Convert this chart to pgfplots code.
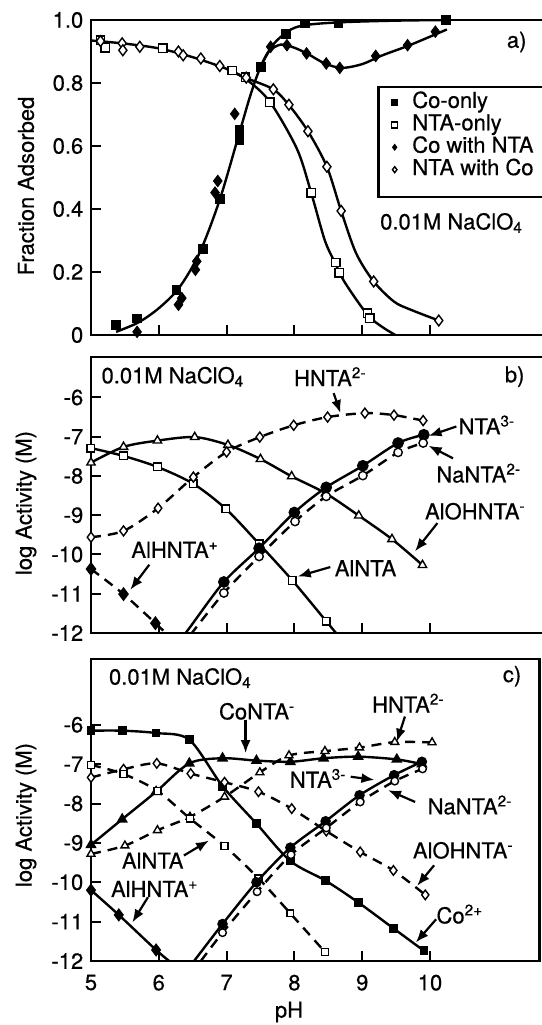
\documentclass[border=0pt]{standalone}
\usepackage{fontspec}
\setmainfont{TeX Gyre Heros}[FakeBold=0.5]
\usepackage{pgfplots}
\pgfplotsset{compat=1.18}
\usetikzlibrary{arrows.meta}

\pgfplotsset{
  panel/.style={
    scale only axis, xmin=5, clip=true, clip mode=individual,
    axis line style={line width=1.4pt},
    tick align=inside, tick pos=left,
    major tick length=5pt,
    tick style={black,line width=1pt},
    xtick={5,6,7,8,9,10},
    /pgf/number format/assume math mode=true,
  },
  curve/.style={black,line width=1.2pt,smooth},
  dcurve/.style={curve,dash pattern=on 5pt off 3.5pt},
  fsq/.style={mark=square*,mark options={solid,fill=black}},
  osq/.style={mark=square*,mark options={solid,fill=white,line width=0.7pt}},
  fdia/.style={mark=diamond*,mark options={solid,fill=black}},
  odia/.style={mark=diamond*,mark options={solid,fill=white,line width=0.7pt}},
  fcirc/.style={mark=*,mark options={solid,fill=black}},
  ocirc/.style={mark=*,mark options={solid,fill=white,line width=0.7pt}},
  ftri/.style={mark=triangle*,mark options={solid,fill=black}},
  otri/.style={mark=triangle*,mark options={solid,fill=white,line width=0.7pt}},
}
\pgfplotsset{legend image code/.code={\draw[#1,mark size=1.5pt] plot coordinates {(0.15cm,0cm)};}}
\tikzset{note/.style={-{Latex[length=6.5pt,width=5pt]},line width=1.1pt}}

\begin{document}
\fontsize{11}{13}\selectfont
\begin{tikzpicture}

% ---- a) fraction adsorbed
\begin{axis}[panel, at={(45.5pt,-167.5pt)}, anchor=south west,
  width=227.1pt, height=157.5pt, xmax=11.7, ymin=0, ymax=1,
  xticklabels={}, ytick={0,0.2,0.4,0.6,0.8,1}, yticklabels={0,0.2,0.4,0.6,0.8,1.0},
  legend style={at={(axis cs:9.43,0.775)},anchor=north west,draw=none,fill=none,inner sep=0pt,
    nodes={inner sep=0.3pt,text height=8pt,text depth=2.6pt},
    /tikz/every odd column/.append style={column sep=7pt}},
  legend cell align=left]
% fitted curves
\addplot[curve,forget plot] coordinates {(5.37,0.01)(5.7,0.04)(6.0,0.085)(6.3,0.15)(6.6,0.26)(6.9,0.43)(7.2,0.65)(7.35,0.76)(7.5,0.85)(7.7,0.925)(7.95,0.97)(8.2,0.985)(8.7,0.993)(9.5,0.998)(10.25,1.0)};
\addplot[curve,forget plot] coordinates {(7.5,0.85)(7.62,0.9)(7.8,0.922)(8.0,0.912)(8.2,0.892)(8.45,0.862)(8.7,0.848)(9.0,0.86)(9.3,0.888)(9.7,0.92)(10.25,0.97)};
\addplot[curve,forget plot] coordinates {(5.0,0.935)(5.5,0.925)(6.0,0.91)(6.5,0.882)(7.0,0.845)(7.3,0.815)(7.69,0.78)(7.92,0.73)(8.2,0.647)(8.48,0.534)(8.69,0.394)(8.91,0.26)(9.17,0.17)(9.47,0.106)(9.72,0.08)(10.13,0.046)};
\addplot[curve,forget plot] coordinates {(7.0,0.845)(7.3,0.81)(7.64,0.74)(8.04,0.59)(8.25,0.45)(8.45,0.30)(8.61,0.225)(8.75,0.165)(9.08,0.064)(9.3,0.025)(9.49,0.0)};
% measured
\addplot[only marks,fsq,mark size=2.2pt] coordinates {(5.37,0.032)(5.37,-0.005)(5.68,0.053)(6.26,0.144)(6.65,0.273)(6.90,0.431)(7.19,0.62)(7.19,0.65)(7.51,0.851)(7.87,0.957)(8.16,0.989)(8.65,0.989)(10.23,1.0)};
\addlegendentry{Co-only}
\addplot[only marks,osq,mark size=2.1pt] coordinates {(5.14,0.936)(5.21,0.912)(6.06,0.91)(7.08,0.84)(7.28,0.819)(7.64,0.739)(8.25,0.452)(8.61,0.23)(8.66,0.197)(9.08,0.069)(9.11,0.053)};
\addlegendentry{NTA-only}
\addplot[only marks,fdia,mark size=2.9pt] coordinates {(5.68,0.01)(6.29,0.096)(6.34,0.117)(6.54,0.207)(6.56,0.234)(6.83,0.452)(6.87,0.489)(7.12,0.702)(7.65,0.915)(7.89,0.92)(8.18,0.894)(8.47,0.862)(8.67,0.848)(9.2,0.886)(9.67,0.92)(10.08,0.963)};
\addlegendentry{Co with NTA}
\addplot[only marks,odia,mark size=2.7pt] coordinates {(5.14,0.933)(5.46,0.926)(5.47,0.904)(5.72,0.915)(6.29,0.9)(6.36,0.888)(6.62,0.878)(6.9,0.854)(7.29,0.817)(7.69,0.78)(7.92,0.731)(8.2,0.647)(8.48,0.534)(8.69,0.394)(9.17,0.17)(10.13,0.046)};
\addlegendentry{NTA with Co}
\draw[line width=1.1pt] (axis cs:9.24,0.787) rectangle (axis cs:12,0.439);
\node at (axis cs:11.28,0.93) {a)};
\node[anchor=base west,inner sep=0pt] at (axis cs:9.26,0.335) {0.01M NaClO\textsubscript{4}};
\end{axis}

% ---- b) log activity, Al system
\begin{axis}[panel, at={(45.5pt,-316.5pt)}, anchor=south west,
  width=227.1pt, height=138pt, xmax=11.7, ymin=-12, ymax=-4.97,
  xticklabels={}, ytick={-12,-11,-10,-9,-8,-7,-6}]
\addplot[curve,otri,mark size=2.4pt] coordinates {(5.0,-7.66)(5.48,-7.26)(5.98,-7.10)(6.53,-7.01)(7.02,-7.21)(7.5,-7.57)(7.96,-8.01)(8.46,-8.44)(8.95,-9.01)(9.44,-9.61)(9.89,-10.27)};
\addplot[curve,osq,mark size=1.9pt,mark indices={1,2,3,4,5,6,7,8}] coordinates {(5.0,-7.29)(5.48,-7.49)(5.98,-7.77)(6.51,-8.2)(6.99,-8.84)(7.48,-9.73)(7.97,-10.66)(8.47,-11.70)(8.72,-12.22)};
\addplot[dcurve,odia,mark size=2.5pt] coordinates {(5.0,-9.56)(5.48,-9.40)(5.99,-8.82)(6.51,-8.03)(7.0,-7.39)(7.49,-7.01)(7.99,-6.71)(8.49,-6.50)(9.04,-6.40)(9.47,-6.45)(9.9,-6.59)};
\addplot[curve,fcirc,mark size=2.3pt,mark indices={2,3,4,5,6,7,8,9}] coordinates {(6.38,-12.04)(6.47,-11.83)(6.96,-10.70)(7.48,-9.84)(8.0,-8.93)(8.47,-8.29)(9.01,-7.74)(9.53,-7.16)(9.91,-6.95)};
\addplot[dcurve,ocirc,mark size=2.1pt] coordinates {(6.47,-12.04)(6.96,-10.98)(7.48,-10.05)(8.01,-9.16)(8.47,-8.52)(9.01,-7.99)(9.53,-7.40)(9.9,-7.16)};
\addplot[dcurve,fdia,mark size=2.6pt,mark indices={1,2,3}] coordinates {(5.0,-10.37)(5.48,-11.01)(5.95,-11.75)(6.15,-12.08)};
\node[anchor=base west,inner sep=0pt] at (axis cs:5.15,-5.64) {0.01M NaClO\textsubscript{4}};
\node at (axis cs:11.25,-5.47) {b)};
\node at (axis cs:8.53,-5.47) {HNTA\textsuperscript{2-}};
\draw[note] (axis cs:8.58,-5.89) -- (axis cs:8.68,-6.40);
\node at (axis cs:10.84,-6.70) {NTA\textsuperscript{3-}};
\draw[note] (axis cs:10.39,-6.74) -- (axis cs:9.98,-6.98);
\node at (axis cs:10.72,-7.93) {NaNTA\textsuperscript{2-}};
\draw[note] (axis cs:10.34,-7.55) -- (axis cs:9.98,-7.23);
\node at (axis cs:10.67,-8.90) {AlOHNTA\textsuperscript{-}};
\draw[note] (axis cs:10.11,-9.2) -- (axis cs:9.78,-9.92);
\node at (axis cs:9.05,-10.35) {AlNTA};
\draw[note] (axis cs:8.53,-10.32) -- (axis cs:8.05,-10.56);
\node at (axis cs:6.24,-9.88) {AlHNTA\textsuperscript{+}};
\draw[note] (axis cs:5.86,-10.26) -- (axis cs:5.58,-10.90);
\end{axis}

% ---- c) log activity, Co + Al system
\begin{axis}[panel, at={(45.5pt,-480.5pt)}, anchor=south west,
  width=224.1pt, height=151pt, xmax=11.61, ymin=-12, ymax=-4.33,
  ytick={-12,-11,-10,-9,-8,-7,-6}, xticklabel style={yshift=-3pt}]
\addplot[curve,fsq,mark size=1.6pt] coordinates {(5.0,-6.15)(5.46,-6.15)(5.96,-6.21)(6.45,-6.38)(6.94,-7.56)(7.44,-8.51)(7.94,-9.46)(8.46,-9.96)(8.94,-10.51)(9.46,-11.17)(9.91,-11.74)};
\addplot[curve,ftri,mark size=2.1pt] coordinates {(5.0,-9.05)(5.46,-8.40)(5.96,-7.70)(6.45,-6.98)(6.94,-6.85)(7.44,-6.91)(7.94,-6.94)(8.43,-6.85)(8.94,-6.81)(9.51,-6.88)(9.88,-7.0)};
\addplot[dcurve,otri,mark size=2.3pt] coordinates {(5.0,-9.28)(5.5,-9.07)(5.98,-8.68)(6.46,-8.34)(6.97,-7.83)(7.49,-7.21)(7.92,-6.78)(8.45,-6.67)(8.96,-6.58)(9.48,-6.44)(10.03,-6.45)};
\addplot[dcurve,odia,mark size=2.4pt] coordinates {(5.0,-7.34)(5.48,-7.13)(5.97,-6.98)(6.47,-7.24)(6.97,-7.46)(7.47,-7.70)(7.96,-8.13)(8.47,-8.70)(8.97,-9.23)(9.46,-9.70)(9.93,-10.32)};
\addplot[dcurve,osq,mark size=1.7pt] coordinates {(5.0,-7.02)(5.48,-7.25)(5.98,-7.68)(6.46,-8.38)(6.97,-9.08)(7.47,-9.90)(7.94,-10.79)(8.45,-11.77)};
\addplot[curve,fcirc,mark size=2pt,mark indices={2,3,4,5,6,7,8}] coordinates {(6.52,-12.0)(6.94,-11.06)(7.44,-10.0)(7.94,-9.12)(8.46,-8.45)(8.96,-7.79)(9.47,-7.28)(9.88,-6.94)};
\addplot[dcurve,ocirc,mark size=1.9pt,mark indices={2,3,4,5,6,7,8}] coordinates {(6.62,-12.0)(6.94,-11.28)(7.45,-10.24)(7.95,-9.30)(8.47,-8.62)(8.97,-7.96)(9.48,-7.43)(9.89,-7.12)};
\addplot[curve,fdia,mark size=2.4pt,mark indices={1,2,3}] coordinates {(5.0,-10.2)(5.41,-10.83)(5.96,-11.72)(6.19,-12.05)};
\node[anchor=base west,inner sep=0pt] at (axis cs:5.26,-4.98) {0.01M NaClO\textsubscript{4}};
\node at (axis cs:11.21,-4.77) {c)};
\node at (axis cs:7.45,-5.66) {CoNTA\textsuperscript{-}};
\draw[note] (axis cs:7.28,-5.87) -- (axis cs:7.28,-6.72);
\node at (axis cs:9.68,-5.45) {HNTA\textsuperscript{2-}};
\draw[note] (axis cs:9.63,-5.79) -- (axis cs:9.51,-6.43);
\node at (axis cs:8.35,-7.36) {NTA\textsuperscript{3-}};
\draw[note] (axis cs:8.83,-7.32) -- (axis cs:9.18,-7.40);
\node at (axis cs:10.59,-8.04) {NaNTA\textsuperscript{2-}};
\draw[note] (axis cs:9.78,-7.96) -- (axis cs:9.38,-7.66);
\node at (axis cs:10.49,-9.19) {AlOHNTA\textsuperscript{-}};
\draw[note] (axis cs:10.06,-9.57) -- (axis cs:9.81,-10.09);
\node at (axis cs:10.44,-10.81) {Co\textsuperscript{2+}};
\draw[note] (axis cs:10.09,-10.94) -- (axis cs:9.79,-11.53);
\node at (axis cs:5.91,-9.45) {AlNTA};
\draw[note] (axis cs:6.37,-9.32) -- (axis cs:6.74,-8.94);
\node at (axis cs:5.94,-10.17) {AlHNTA\textsuperscript{+}};
\draw[note] (axis cs:5.84,-10.38) -- (axis cs:5.61,-11.02);
\end{axis}

\node[rotate=90] at (13pt,-93pt) {Fraction Adsorbed};
\node[rotate=90] at (13pt,-251.5pt) {log Activity (M)};
\node[rotate=90] at (13pt,-407.5pt) {log Activity (M)};
\node at (144.5pt,-506pt) {pH};
\pgfresetboundingbox
\path[use as bounding box] (0pt,0pt) rectangle (271pt,-512.5pt);
\end{tikzpicture}
\end{document}
